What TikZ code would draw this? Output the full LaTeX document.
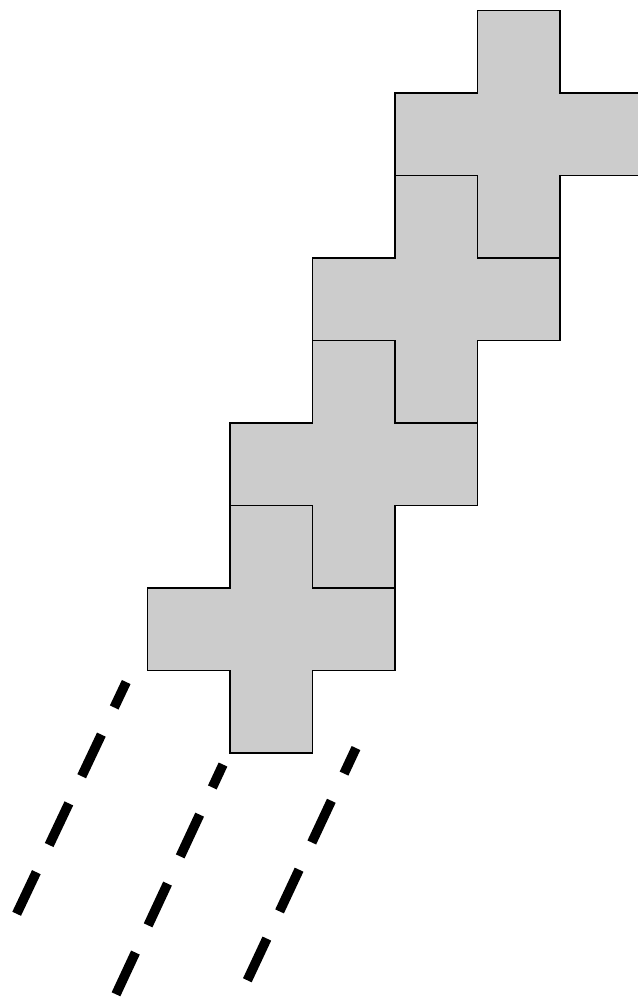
\documentclass[tikz,border=0pt]{standalone}
\usepackage{tikz}
\usepackage{xcolor}
\definecolor{TileGray}{HTML}{CCCCCC}
\tikzset{
 tile/.style={draw=black, fill=TileGray, line width=0.5pt, line join=miter},
 trail/.style={draw=black, line width=3.3pt, line cap=butt, dash pattern=on 0.558cm off 0.364cm}
}

\begin{document}
\begin{tikzpicture}
\useasboundingbox (0,0) rectangle (7.733,12.109);
\clip (0,0) rectangle (7.733,12.109);
% four plus tiles, each one unit left and two units down of the last
\foreach \cx/\cy in {6.29/10.48, 5.29/8.48, 4.29/6.48, 3.29/4.48}{
 \begin{scope}[shift={(\cx,\cy)}]
 \draw[tile] (-0.5,1.5) -- (0.5,1.5) -- (0.5,0.5) -- (1.5,0.5) -- (1.5,-0.5) -- (0.5,-0.5) -- (0.5,-1.5) -- (-0.5,-1.5) -- (-0.5,-0.5) -- (-1.5,-0.5) -- (-1.5,0.5) -- (-0.5,0.5) -- cycle;
 \end{scope}
}
% dashed trails
\coordinate (t1a) at (0.202,1.033);\coordinate (t1b) at (1.530,3.842);
\coordinate (t2a) at (1.406,0.057);\coordinate (t2b) at (2.703,2.842);
\coordinate (t3a) at (2.998,0.227);\coordinate (t3b) at (4.315,3.042);
\draw[trail] (t1a) -- (t1b);\draw[trail] (t2a) -- (t2b);\draw[trail] (t3a) -- (t3b);
\end{tikzpicture}
\end{document}
